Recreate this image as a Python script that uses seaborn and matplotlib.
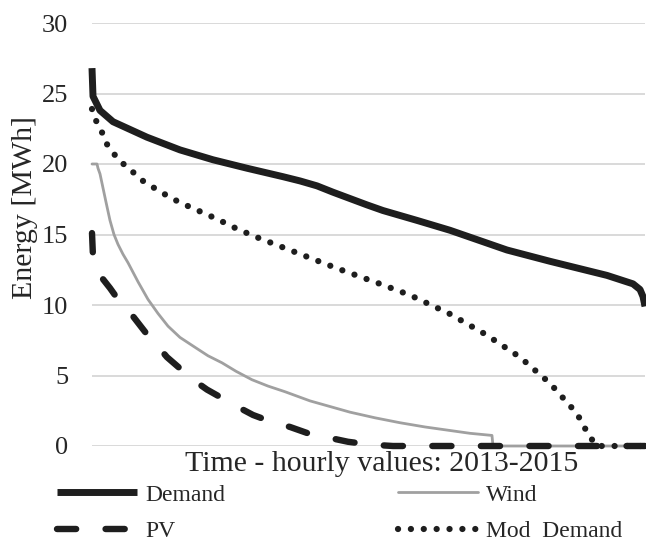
import matplotlib
matplotlib.use("Agg")
import matplotlib.pyplot as plt
import seaborn as sns

# ---- data (hour index of the sorted duration curve, energy in MWh) ----
demand_hours = [0, 48, 380, 998, 2613, 4182, 5750, 7366, 9077, 9884, 10692, 11452,
                12260, 13068, 13828, 15444, 17012, 19721, 21764, 24473, 25709,
                26042, 26184, 26280]
demand_mwh = [26.8, 24.8, 23.8, 23.0, 21.9, 21.0, 20.3, 19.7, 19.1, 18.8, 18.45, 18.0,
              17.55, 17.1, 16.7, 16.0, 15.3, 13.9, 13.1, 12.1, 11.5,
              11.1, 10.6, 9.9]

wind_hours = [0, 238, 285, 380, 523, 665, 855, 1045, 1236, 1473, 1711, 2186, 2661,
              3136, 3612, 4182, 4895, 5512, 6178, 6843, 7603, 8364, 9171, 10359,
              12260, 13448, 14636, 15824, 17012, 17963, 19008, 19056, 26280]
wind_mwh = [20.0, 20.0, 19.7, 19.3, 18.3, 17.3, 16.0, 15.0, 14.3, 13.6, 13.0, 11.65, 10.4,
            9.4, 8.5, 7.7, 7.0, 6.4, 5.9, 5.3, 4.7, 4.25, 3.85, 3.2,
            2.4, 2.0, 1.65, 1.35, 1.1, 0.9, 0.75, 0.0, 0.0]

pv_hours = [0, 48, 380, 855, 1426, 1948, 2519, 2994, 3564, 4182, 4800, 5465, 6178,
            6890, 7651, 8554, 9410, 10265, 11215, 12165, 13211, 14304, 26280]
pv_mwh = [15.1, 13.4, 12.1, 11.2, 10.0, 9.2, 8.1, 7.3, 6.3, 5.5, 4.7, 4.0, 3.4,
          2.8, 2.2, 1.7, 1.35, 0.9, 0.6, 0.3, 0.1, 0.0, 0.0]

mod_hours = [0, 48, 285, 523, 713, 998, 1331, 1663, 2424, 3279, 4134, 5037, 5940,
             6890, 7841, 8791, 9742, 11642, 13686, 15111, 16965, 18723, 20339,
             21764, 23047, 23522, 23807, 23998, 26280]
mod_mwh = [23.9, 23.5, 22.8, 22.1, 21.4, 20.8, 20.2, 19.8, 18.8, 18.0, 17.3, 16.7, 16.1,
           15.4, 14.8, 14.25, 13.7, 12.6, 11.5, 10.7, 9.4, 7.9, 6.3,
           4.45, 2.3, 1.0, 0.35, 0.0, 0.0]

series_labels = ["Demand", "Wind", "PV", "Mod  Demand"]
y_ticks = [0, 5, 10, 15, 20, 25, 30]
x_title = "Time - hourly values: 2013-2015"
y_title = "Energy [MWh]"

# ---- style ----
sns.set_style("white")
plt.rcParams["font.family"] = ["Liberation Serif", "DejaVu Serif"]

BLACK = "#1e1e1e"
GREY = "#a0a0a0"
W, H = 646, 545

fig = plt.figure(figsize=(W / 100, H / 100), dpi=100)
ax = fig.add_axes([92 / W, 1 - 446 / H, (645 - 92) / W, (446 - 23) / H])

sns.lineplot(x=wind_hours, y=wind_mwh, ax=ax, color=GREY, linewidth=2.0,
             estimator=None, sort=False, clip_on=False, label=series_labels[1])
sns.lineplot(x=pv_hours, y=pv_mwh, ax=ax, color=BLACK, linewidth=4.6,
             linestyle=(0, (3.0, 4.6)), dash_capstyle="round",
             estimator=None, sort=False, clip_on=False, label=series_labels[2])
sns.lineplot(x=mod_hours, y=mod_mwh, ax=ax, color=BLACK, linewidth=4.5,
             linestyle=(0, (0.01, 2.05)), dash_capstyle="round",
             estimator=None, sort=False, clip_on=False, label=series_labels[3])
sns.lineplot(x=demand_hours, y=demand_mwh, ax=ax, color=BLACK, linewidth=5.0,
             solid_capstyle="butt", solid_joinstyle="round",
             estimator=None, sort=False, clip_on=False, label=series_labels[0])

ax.set_xlim(0, 26280)
ax.set_ylim(0, 30)
ax.set_yticks(y_ticks)
ax.set_xticks([])
ax.set_xlabel("")
ax.set_ylabel("")
ax.grid(axis="y", color="#d9d9d9", linewidth=1.4)
ax.set_axisbelow(True)
for s in ax.spines.values():
    s.set_visible(False)
ax.tick_params(axis="y", length=0, pad=17, labelsize=19, labelcolor="#262626")

fig.text(382 / W, 1 - 451 / H, x_title, ha="center", va="top", fontsize=21.5,
         color="#262626")
fig.text(25 / W, 1 - 207 / H, y_title, ha="center", va="center", rotation=90,
         fontsize=21.5, color="#262626")

handles, labels = ax.get_legend_handles_labels()
ax.get_legend().remove()
hmap = dict(zip(labels, handles))
order = [series_labels[0], series_labels[2], series_labels[1], series_labels[3]]
fig.legend([hmap[k] for k in order], order, ncol=2, loc="center left",
           bbox_to_anchor=(57 / W, 1 - 513 / H), frameon=False, fontsize=17,
           handlelength=3.4, handletextpad=0.35, columnspacing=7.3,
           labelspacing=0.62, borderpad=0, borderaxespad=0, labelcolor="#262626")

fig.savefig("out.png", dpi=100)
